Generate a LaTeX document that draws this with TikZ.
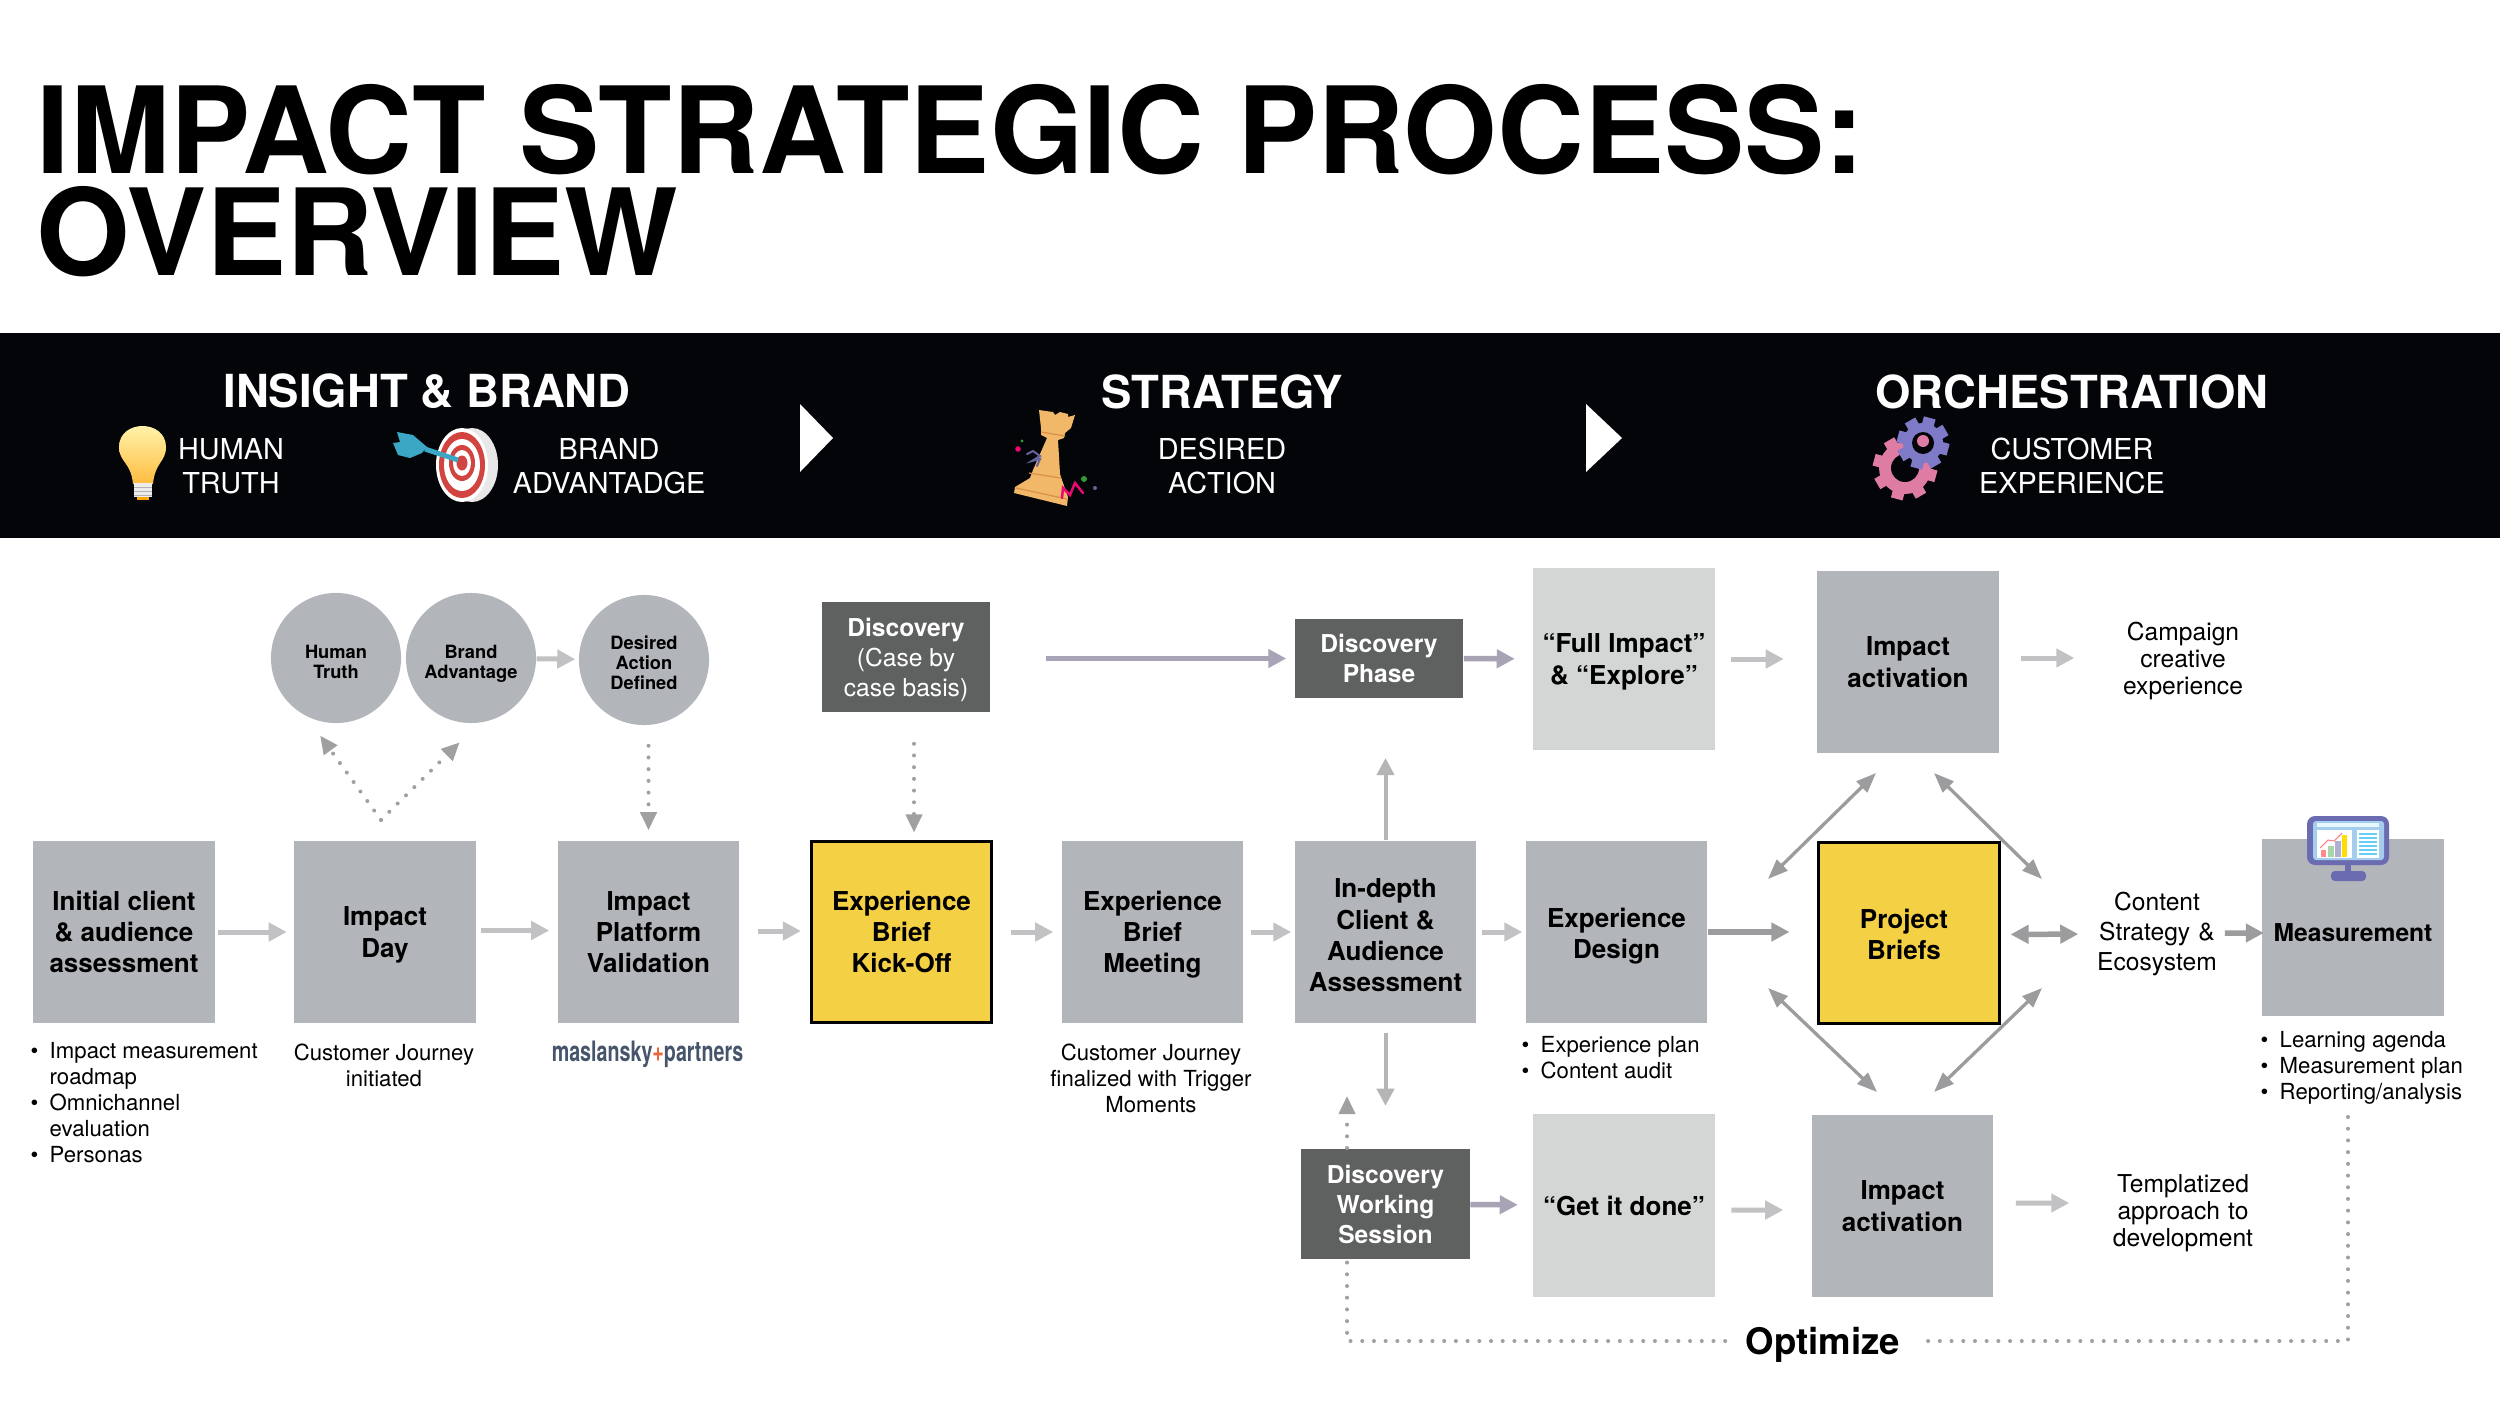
\documentclass[tikz,border=0pt]{standalone}
\usepackage{xcolor}
\usepackage{graphicx}
\usepackage{fontspec}
\setmainfont{TeX Gyre Heros}
\usepackage{tikz}
\usetikzlibrary{calc,arrows.meta,shapes.geometric}

\definecolor{bandblack}{HTML}{030508}
\definecolor{boxgray}{HTML}{B2B5B9}
\definecolor{palegray}{HTML}{D4D6D6}
\definecolor{darkgray}{HTML}{5F6160}
\definecolor{briefyellow}{HTML}{F4D044}
\definecolor{flowgray}{HTML}{C2C2C4}
\definecolor{midgray}{HTML}{9C9C9E}
\definecolor{flowpurple}{HTML}{A8A3B5}
\definecolor{dotgray}{HTML}{A0A0A0}
\definecolor{rooktan}{HTML}{F0B868}
\definecolor{rookedge}{HTML}{D98F45}
\definecolor{dartblue}{HTML}{3BA7C4}
\definecolor{ringred}{HTML}{D2443F}
\definecolor{gearpink}{HTML}{DE7CA3}
\definecolor{gearpurple}{HTML}{7F7AC8}
\definecolor{screenblue}{HTML}{A5CDEE}
\definecolor{framepurple}{HTML}{6A6BB0}
\definecolor{logoslate}{HTML}{46556B}
\definecolor{logoorange}{HTML}{E8663A}

\newcommand{\bul}{\makebox[0.19cm][l]{\textbullet}}
\newcommand{\ind}{\hspace*{0.19cm}}
\newcommand{\pad}[1]{\rule{0pt}{#1pt}}
\newcommand{\gearicon}[5]{%
  \foreach \a in {0,45,...,315}
    \draw[#5, line width=0.12cm] (#1,#2)--++(\a+15:#3);
  \fill[#5] (#1,#2) circle[radius=#3-6];
  \fill[bandblack] (#1,#2) circle[radius=#4];
}

\tikzset{
  box/.style={rectangle, fill=boxgray, minimum width=1.81cm, minimum height=1.82cm, inner sep=0pt,
    align=center, text depth=0pt, font=\fontsize{7.4}{8.85}\selectfont\bfseries},
  briefbox/.style={box, fill=briefyellow, draw=black, line width=0.03cm, minimum width=1.8cm, minimum height=1.8cm},
  palebox/.style={box, fill=palegray},
  darkbox/.style={rectangle, fill=darkgray, text=white, minimum width=1.68cm, inner sep=0pt,
    align=center, text depth=0pt, font=\fontsize{7}{8.5}\selectfont},
  round/.style={circle, fill=boxgray, minimum size=1.3cm, inner sep=0pt,
    align=center, text depth=0pt, font=\fontsize{5.2}{5.7}\selectfont\bfseries},
  note/.style={inner sep=0pt, align=center, font=\fontsize{7}{7.6}\selectfont},
  small/.style={inner sep=0pt, align=center, font=\fontsize{6.3}{7.4}\selectfont},
  list/.style={inner sep=0pt, align=left, anchor=west, font=\fontsize{6.3}{7.4}\selectfont},
  head/.style={text=white, inner sep=0pt, font=\fontsize{12.95}{15}\selectfont\bfseries},
  sub/.style={text=white, inner sep=0pt, align=center, font=\fontsize{8.2}{9.7}\selectfont},
  flow/.style={flowgray, line width=0.05cm, -{Triangle[length=0.18cm,width=0.18cm]}},
  purpleflow/.style={flow, flowpurple, line width=0.055cm},
  strong/.style={flow, midgray, line width=0.055cm},
  thinflow/.style={midgray, line width=0.033cm, {Triangle[length=0.2cm,width=0.15cm]}-{Triangle[length=0.2cm,width=0.15cm]}},
  dotline/.style={dotgray, line width=0.04cm, line cap=round, dash pattern=on 0pt off 0.117cm},
  dotflow/.style={dotline, -{Triangle[length=0.18cm,width=0.16cm,sep=0.02cm]}},
}

\begin{document}
\begin{tikzpicture}[x=0.01cm,y=-0.01cm]
  \useasboundingbox[fill=white] (0,0) rectangle (2500,1406);

  \node[inner sep=0pt, anchor=west, align=left, font=\fontsize{34.2}{29}\selectfont\bfseries] (title) at (36,181)
    {IMPACT STRATEGIC PROCESS:\\OVERVIEW};

  \fill[bandblack] (0,333) rectangle (2500,538);
  \node[head] (insight) at (427,391.5) {INSIGHT \& BRAND};
  \node[head] (strategy) at (1222,391.5) {STRATEGY};
  \node[head] (orchestration) at (2072,391.5) {ORCHESTRATION};
  \node[sub] (human) at (231,466) {HUMAN\\TRUTH};
  \node[sub] (brand) at (609,466) {BRAND\\ADVANTADGE};
  \node[sub] (desired) at (1222,466) {DESIRED\\ACTION};
  \node[sub] (customer) at (2072,466) {CUSTOMER\\EXPERIENCE};
  \fill[white] (800,404)--(833,438)--(800,472)--cycle;
  \fill[white] (1586,404)--(1622,438)--(1586,472)--cycle;

  % bulb
  \fill[top color=yellow!25!white!95!orange, bottom color=orange!70!yellow!75!white]
    (133,484) .. controls (131,462) and (119,462) .. (119,447)
    .. controls (119,419) and (166,419) .. (166,447)
    .. controls (166,462) and (155,462) .. (153,484)--cycle;
  \fill[white!85!gray] (134,483) rectangle (152,497);
  \foreach \y in {487,491,495} \draw[gray!60, line width=0.008cm] (134,\y)--(152,\y);
  \fill[orange!70!yellow] (137,497) rectangle (149,500);

  % target and dart
  \fill[white!82!gray] (472,465) ellipse[x radius=26, y radius=37];
  \fill[white] (462,465) ellipse[x radius=26, y radius=37];
  \fill[ringred] (462,465) ellipse[x radius=23, y radius=33];
  \fill[white] (462,465) ellipse[x radius=18, y radius=26];
  \fill[ringred] (462,463) ellipse[x radius=13, y radius=18];
  \fill[white] (462,463) ellipse[x radius=9, y radius=13];
  \fill[ringred] (462,463) ellipse[x radius=5.5, y radius=7.5];
  \draw[dartblue, line width=0.05cm] (458,460)--(425,449);
  \fill[dartblue] (397,432)--(413,435)--(427,447)--(422,453)--(410,458)--(398,455)--(393,443)--(400,442)--cycle;

  % rook
  \fill[rooktan] (1039,410)--(1053,412)--(1055,415)--(1060,412)--(1068,414)--(1068,417)--(1075,415)--(1071,428)
    --(1065,433)--(1064,438)--(1058,440)--(1060,474)--(1062,480)--(1068,497)--(1067,506)--(1014,493)--(1015,487)
    --(1030,478)--(1033,470)--(1047,438)--(1041,435)--(1041,428)--cycle;
  \draw[rookedge, line width=0.012cm] (1041,432)--(1065,436) (1029,473)--(1061,478) (1016,488)--(1067,499);
  \draw[gearpurple!80!black, line width=0.02cm, line cap=round] (1027,454)--(1033,451)--(1040,456)--(1032,461)--(1040,459)--(1037,466);
  \draw[magenta!75!red, line width=0.025cm, line cap=round] (1062,498)--(1063,488)--(1070,495)--(1075,483)--(1083,493);
  \fill[green!50!black!80!white] (1022,441) circle[radius=1.6];
  \fill[magenta!75!red] (1018,449) circle[radius=2.8];
  \fill[green!50!black!80!white] (1084,479) circle[radius=3];
  \fill[gearpurple!80!black] (1095,488) circle[radius=2];

  % gears
  \gearicon{1905}{468}{32}{14}{gearpink}
  \gearicon{1923}{443}{26}{11}{gearpurple}
  \fill[gearpink] (1923,441) circle[radius=6];

  % upper row
  \node[round] (humantruth) at (336,658) {\pad{6}Human\\Truth};
  \node[round] (brandadv) at (471,658) {\pad{6}Brand\\Advantage};
  \node[round] (desiredact) at (644,660) {\pad{5.6}Desired\\Action\\Defined};
  \node[darkbox, minimum height=1.1cm] (case) at (906,657) {\textbf{Discovery}\\(Case by\\case basis)};
  \node[darkbox, minimum height=0.79cm, font=\fontsize{7}{8.5}\selectfont\bfseries] (phase) at (1379,658.5) {Discovery\\Phase};
  \node[palebox] (fullimpact) at (1624,659) {“Full Impact”\\\& “Explore”};
  \node[box] (activationup) at (1908,662) {Impact\\activation};
  \node[note, text width=1.4cm] (campaign) at (2183,661) {Campaign\\creative\\experience};

  % middle row
  \node[box] (initial) at (124,932) {Initial client\\\& audience\\assessment};
  \node[box] (impactday) at (385,932) {Impact\\Day};
  \node[box] (platform) at (648.5,932) {Impact\\Platform\\Validation};
  \node[briefbox] (kickoff) at (901.5,932) {Experience\\Brief\\Kick-Off};
  \node[box] (meeting) at (1152.5,932) {Experience\\Brief\\Meeting};
  \node[box] (indepth) at (1385.5,932) {\pad{7.2}In-depth\\Client \&\\Audience\\Assessment};
  \node[box] (design) at (1616.5,932) {\pad{6.3}Experience\\Design};
  \node[briefbox] (project) at (1909,933) {\pad{6.3}\hspace*{-0.1cm}Project\\\hspace*{-0.1cm}Briefs};
  \node[note, text width=1.3cm, font=\fontsize{7}{8.5}\selectfont] (content) at (2157,934) {Content\\Strategy \&\\Ecosystem};
  \node[box, minimum height=1.77cm, font=\fontsize{7}{8.5}\selectfont\bfseries] (measure) at (2353,927.5) {\pad{7.8}Measurement};

  % lower row
  \node[darkbox, minimum height=1.09cm, font=\fontsize{7}{8.5}\selectfont\bfseries] (working) at (1385.5,1204) {Discovery\\Working\\Session};
  \node[palebox] (getdone) at (1624,1205.5) {“Get it done”};
  \node[box] (activationlow) at (1902.5,1206) {Impact\\activation};
  \node[note, text width=1.4cm] (templated) at (2183,1213) {Templatized\\approach to\\development};
  \node[inner sep=0pt, inner xsep=0.2cm, text depth=0pt, font=\fontsize{10.4}{12}\selectfont\bfseries] (optimize) at (1823,1341) {Optimize};

  % texts below the boxes
  \node[list] (initlist) at (30,1103) {\bul Impact measurement\\\ind roadmap\\\bul Omnichannel\\\ind evaluation\\\bul Personas};
  \node[small] (journey) at (384,1065) {Customer Journey\\initiated};
  \node[inner sep=0pt, font=\fontsize{8}{9}\selectfont\bfseries, text=logoslate] (logo) at (647.5,1054)
    {\scalebox{0.7}[1]{maslansky\textcolor{logoorange}{+}partners}};
  \node[small] (journeyend) at (1151,1078) {Customer Journey\\finalized with Trigger\\Moments};
  \node[list] (designlist) at (1521,1057.5) {\bul Experience plan\\\bul Content audit};
  \node[list] (measurelist) at (2260,1068) {\bul Learning agenda\\\bul Measurement plan\\\bul Reporting/analysis};

  % monitor
  \fill[framepurple, rounded corners=0.08cm] (2307,816) rectangle (2389,865);
  \fill[screenblue, rounded corners=0.03cm] (2313,821) rectangle (2384,860);
  \fill[white!90!cyan] (2317,823) rectangle (2379,827);
  \fill[white] (2317,830) rectangle (2352,858);
  \fill[white] (2357,830) rectangle (2379,858);
  \foreach \y in {834,838,842,846,850,854} \draw[cyan!60!white, line width=0.012cm] (2359,\y)--(2377,\y);
  \fill[red!45!white] (2321,850) rectangle (2326,857);
  \fill[green!35!gray!50!white] (2328,846) rectangle (2334,857);
  \fill[blue!25!gray!50!white] (2335,841) rectangle (2341,857);
  \fill[yellow!80!orange] (2342,835) rectangle (2347,857);
  \draw[red!50!white, line width=0.01cm] (2320,848)--(2328,840)--(2334,841)--(2342,833);
  \fill[framepurple] (2345,865) rectangle (2351,872);
  \fill[framepurple, rounded corners=0.04cm] (2331,871) rectangle (2366,881);

  % flow arrows
  \draw[flow, shorten <=0.03cm, shorten >=0.07cm] (initial)--(impactday);
  \draw[flow, shorten <=0.05cm, shorten >=0.08cm] ([yshift=0.015cm]impactday.east)--([yshift=0.015cm]platform.west);
  \draw[flow, shorten <=0.18cm, shorten >=0.09cm] ([yshift=0.01cm]platform.east)--([yshift=0.01cm]kickoff.west);
  \draw[flow, shorten <=0.18cm, shorten >=0.08cm] (kickoff)--(meeting);
  \draw[flow, shorten <=0.07cm, shorten >=0.03cm] (meeting)--(indepth);
  \draw[flow, shorten <=0.05cm, shorten >=0.03cm] (indepth)--(design);
  \draw[strong, shorten >=0.28cm] (design)--(design.east -| project.west);
  \draw[strong, {Triangle[length=0.18cm,width=0.18cm]}-{Triangle[length=0.18cm,width=0.18cm]}, shorten <=0.1cm, shorten >=0.13cm] ([yshift=-0.015cm]project.east)--(content.west);
  \draw[strong, shorten <=0.02cm, shorten >=-0.02cm] ([yshift=0.01cm]content.east)--([yshift=-0.055cm]measure.west);
  \draw[flow, shorten <=0.16cm, shorten >=0.33cm] (fullimpact)--(activationup.west |- fullimpact);
  \draw[flow, shorten <=0.22cm, shorten >=0.38cm] ([yshift=0.04cm]activationup.east)--([yshift=0.03cm]campaign.west);
  \draw[flow, shorten <=0.16cm, shorten >=0.28cm] ([yshift=-0.045cm]getdone.east)--([yshift=-0.04cm]activationlow.west);
  \draw[flow, shorten <=0.22cm, shorten >=0.43cm] ([yshift=0.03cm]activationlow.east)--([yshift=0.10cm]templated.west);
  \draw[purpleflow, shorten <=0.55cm, shorten >=0.08cm] (case.east |- phase)--(phase.west);
  \draw[purpleflow, shorten >=0.18cm] (phase)--(fullimpact);
  \draw[purpleflow, shorten >=0.15cm] (working)--(getdone);
  \draw[midgray!75!white, line width=0.04cm, -{Triangle[length=0.17cm,width=0.17cm]}, shorten >=0.02cm] (indepth.north)--(1385.5,756);
  \draw[midgray!75!white, line width=0.04cm, -{Triangle[length=0.17cm,width=0.17cm]}, shorten <=0.09cm, shorten >=0.43cm] (indepth.south)--(working.north -| indepth.south);

  % arrows around the briefs
  \coordinate (upleftA) at (1876,773);
  \coordinate (upleftB) at (1768,879);
  \coordinate (uprightA) at (1934,773);
  \coordinate (uprightB) at (2042,879);
  \coordinate (lowleftA) at (1768,988);
  \coordinate (lowleftB) at (1877,1092);
  \coordinate (lowrightA) at (2042,988);
  \coordinate (lowrightB) at (1934,1092);
  \draw[thinflow] (upleftA)--(upleftB);
  \draw[thinflow] (uprightA)--(uprightB);
  \draw[thinflow] (lowleftA)--(lowleftB);
  \draw[thinflow] (lowrightA)--(lowrightB);

  % dotted connectors
  \coordinate (vee) at (381,820);
  \coordinate (veeleft) at (319,734);
  \coordinate (veeright) at (461,741);
  \draw[dotflow] (vee)--(veeleft);
  \draw[dotflow] (vee)--(veeright);
  \draw[dotflow, shorten <=0.2cm, shorten >=0.08cm] (desiredact.south -| platform.north)--(platform.north);
  \draw[dotflow, shorten <=0.31cm, shorten >=0.06cm] ([xshift=0.08cm]case.south)--([xshift=0.125cm]kickoff.north);
  \coordinate (loopstart) at (2348,1117);
  \coordinate (looptip) at (1347,1094);
  \draw[dotline] (loopstart) |- (optimize.east);
  \draw[dotline] (optimize.west) -| (1347,1262);
  \draw[dotflow] (1347,1148)--(looptip);

  % arrow between the circles
  \draw[flow, shorten >=0.03cm] (brandadv)--(desiredact);
\end{tikzpicture}
\end{document}
